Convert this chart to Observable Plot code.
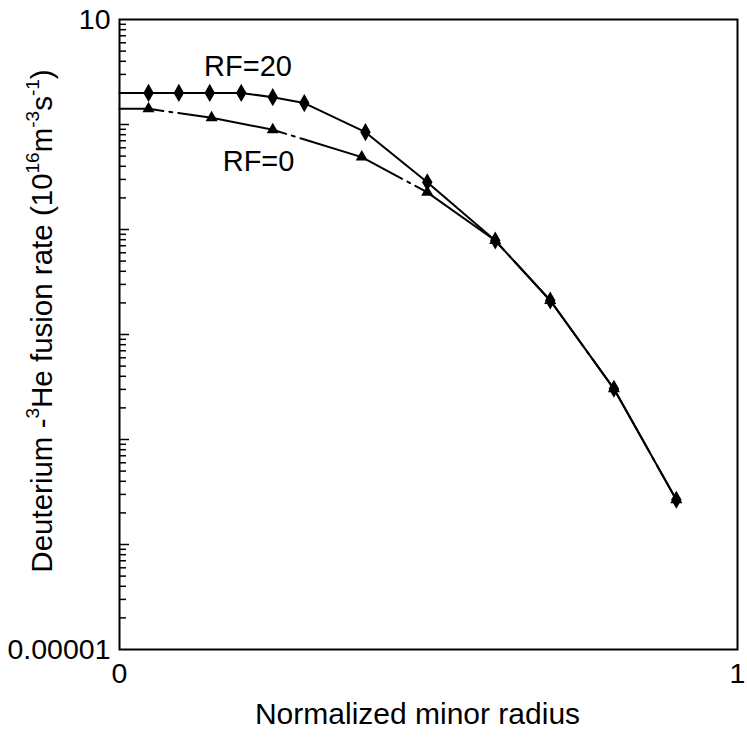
<!DOCTYPE html>
<html>
<head>
<meta charset="utf-8">
<script src="https://cdn.jsdelivr.net/npm/d3@7"></script>
<script src="https://cdn.jsdelivr.net/npm/@observablehq/plot@0.6"></script>
<style>
  html, body { margin: 0; padding: 0; background: #fff; }
  #chart { width: 747px; height: 739px; }
</style>
</head>
<body>
<div id="chart"></div>
<script>
// ---- data ----
const radiusRF20 = [0, 0.047, 0.096, 0.146, 0.197, 0.248, 0.299, 0.398, 0.498, 0.608, 0.697, 0.800, 0.901];
const rateRF20   = [2.0, 2.0, 2.0, 2.0, 2.0, 1.82, 1.60, 0.845, 0.282, 0.0785, 0.0211, 0.00304, 0.000267];
const radiusRF0  = [0, 0.047, 0.149, 0.248, 0.392, 0.498, 0.608, 0.697, 0.800, 0.901];
const rateRF0    = [1.41, 1.41, 1.16, 0.891, 0.489, 0.226, 0.0785, 0.0211, 0.00304, 0.000267];

const yTickValues = [0.00001, 10];
const yTickLabels = ["0.00001", "10"];
const xTickValues = [0, 1];
const xTickLabels = ["0", "1"];
const seriesLabels = ["RF=20", "RF=0"];
const labelX = [0.208, 0.225];
const labelY = [3.56, 0.444];

const rf20 = radiusRF20.map((r, i) => ({r, v: rateRF20[i]}));
const rf0  = radiusRF0.map((r, i) => ({r, v: rateRF0[i]}));
const labels = seriesLabels.map((t, i) => ({t, x: labelX[i], y: labelY[i]}));

const decades = d3.range(-4, 1).map(e => Math.pow(10, e));
const minor = [];
for (let e = -5; e <= 0; e++) for (let m = 2; m <= 9; m++) minor.push(m * Math.pow(10, e));

const font = "'Liberation Sans', Arial, Helvetica, sans-serif";

const plot = Plot.plot({
  width: 747,
  height: 739,
  marginLeft: 119,
  marginRight: 10,
  marginTop: 19,
  marginBottom: 90,
  style: {fontFamily: font, fontSize: "28px", color: "#000", background: "#fff"},
  x: {domain: [0, 1]},
  y: {type: "log", domain: [0.00001, 10]},
  marks: [
    Plot.frame({stroke: "#000", strokeWidth: 2}),
    Plot.axisY({ticks: minor, tickSize: -7, tickFormat: () => "", label: null, strokeWidth: 1.5}),
    Plot.axisY({ticks: decades, tickSize: -10, tickFormat: () => "", label: null, strokeWidth: 1.5}),
    Plot.axisY({ticks: yTickValues, tickSize: 0, tickPadding: 9, label: null,
      tickFormat: d => yTickLabels[yTickValues.indexOf(d)], fontSize: 28.5}),
    Plot.axisX({ticks: xTickValues, tickSize: 0, tickPadding: 13, label: null,
      tickFormat: d => xTickLabels[xTickValues.indexOf(d)], fontSize: 28.5}),
    Plot.line(rf0, {x: "r", y: "v", stroke: "#000", strokeWidth: 2,
      strokeDasharray: "110,6,3,6", strokeDashoffset: 66}),
    Plot.line(rf20, {x: "r", y: "v", stroke: "#000", strokeWidth: 2}),
    Plot.dot(rf0.filter(d => d.r > 0), {x: "r", y: "v", symbol: "triangle", r: 4.5, fill: "#000", stroke: "none"}),
    Plot.dot(rf20.filter(d => d.r > 0), {x: "r", y: "v", symbol: "diamond", r: 5.5, fill: "#000", stroke: "none"}),
    Plot.text(labels, {x: "x", y: "y", text: "t", fontSize: 29, fill: "#000", textAnchor: "middle"}),
    Plot.text(["Normalized minor radius"], {frameAnchor: "bottom", dx: -11, dy: 74, fontSize: 30, fill: "#000"})
  ]
});

document.getElementById("chart").appendChild(plot);

// y-axis title with superscripts
const svg = d3.select(plot);
const t = svg.append("text")
  .attr("transform", "translate(44,321) rotate(-90)")
  .attr("text-anchor", "middle")
  .attr("dominant-baseline", "middle")
  .attr("font-family", font)
  .attr("font-size", 29.5)
  .attr("fill", "#000");
const parts = [
  ["Deuterium -", false], ["3", true], ["He fusion rate (10", false], ["16", true],
  ["m", false], ["-3", true], ["s", false], ["-1", true], [")", false]
];
for (const [s, sup] of parts) {
  const ts = t.append("tspan").text(s);
  if (sup) ts.attr("font-size", 19).attr("baseline-shift", "super");
}
</script>
</body>
</html>
